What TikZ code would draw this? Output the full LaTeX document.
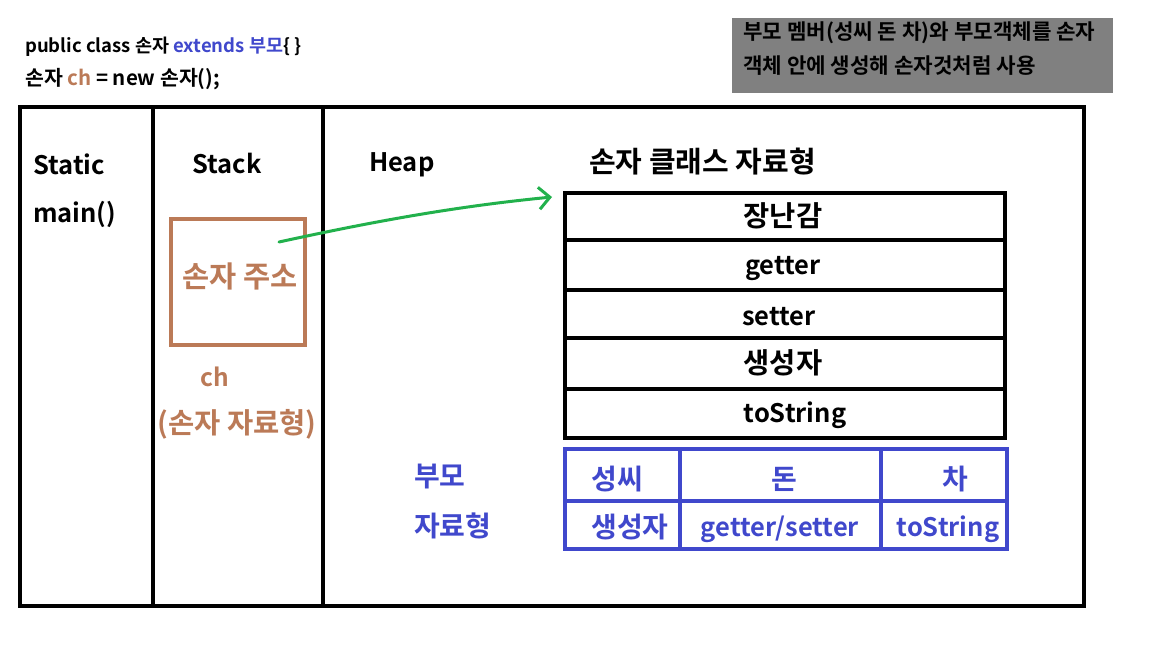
\documentclass[tikz,border=0pt]{standalone}
\usepackage{fontspec}
\setmainfont{Noto Sans CJK KR}[BoldFont={Noto Sans CJK KR Bold}]
\usetikzlibrary{arrows.meta}
\definecolor{brn}{HTML}{BB7A57}
\definecolor{blu}{HTML}{4048CC}
\definecolor{grn}{HTML}{22B14C}
\definecolor{gry}{HTML}{808080}
\newcommand{\fs}[1]{\fontsize{#1}{#1}\selectfont\bfseries}
\begin{document}
\begin{tikzpicture}[x=1pt,y=-1pt,
  frame/.style={line width=4pt,draw=black},
  head/.style={font=\fs{25.5},anchor=west,inner sep=0},
  cell/.style={font=\fs{25.5},inner sep=0},
  kcell/.style={font=\fs{28.5},inner sep=0},
  bcell/.style={font=\fs{25.5},inner sep=0,text=blu},
  bkcell/.style={font=\fs{28},inner sep=0,text=blu},
  btxt/.style={text=brn,inner sep=0}]
\useasboundingbox (0,0) rectangle (1152,648);
\fill[white] (0,0) rectangle (1152,648);
% code lines
\node[anchor=west,inner sep=0,font=\fs{18.5}] (code1) at (25,47)
  {public class 손자 \textcolor{blu}{extends 부모}\{ \}};
\node[anchor=west,inner sep=0,font=\fs{20.5}] (code2) at (25,79)
  {손자 \textcolor{brn}{ch} = new 손자();};
% gray note
\node[fill=gry,minimum width=381pt,minimum height=75pt,anchor=north west,inner sep=0] (note) at (732,18) {};
\node[anchor=west,inner sep=0,font=\fs{21.2}] (note1) at (743,33) {부모 멤버(성씨 돈 차)와 부모객체를 손자};
\node[anchor=west,inner sep=0,font=\fs{21.2}] (note2) at (743,66) {객체 안에 생성해 손자것처럼 사용};
% frame
\draw[frame] (20,107) rectangle (1084,606);
\draw[frame] (153,107) -- (153,606);
\draw[frame] (323,107) -- (323,606);
% headings
\node[head] (static) at (33,164) {Static};
\node[head] (main) at (33,214) {main()};
\node[head] (stack) at (192,164) {Stack};
\node[head] (heap) at (369,165) {Heap};
\node[head,font=\fs{29}] (cls) at (589,162) {손자 클래스 자료형};
% brown box
\node[draw=brn,line width=4pt,minimum width=134pt,minimum height=126pt,inner sep=0] (addr) at (238,282) {};
\node[btxt,font=\fs{29.5}] (addrtxt) at (240,276) {손자 주소};
\node[btxt,font=\fs{24.5}] (ch) at (215,377) {ch};
\node[btxt,font=\fs{28.5}] (chtype) at (237,424) {(손자 자료형)};
% black table
\draw[line width=4.5pt] (565,193) rectangle (1005,438);
\foreach \yy in {240,290,338,389} \draw[line width=4.5pt] (565,\yy) -- (1005,\yy);
\node[kcell] (r1) at (783,216) {장난감};
\node[cell] (r2) at (783,269) {getter};
\node[cell] (r3) at (779,317) {setter};
\node[kcell] (r4) at (783,363) {생성자};
\node[cell] (r5) at (795,415) {toString};
\coordinate (tbltop) at (552,197);
\coordinate (arrstart) at (279,242);
% green arrow
\draw[grn,line width=3pt,line cap=round,-{Straight Barb[length=11pt,width=22pt,line width=3pt]}]
  (arrstart) .. controls (380,220) and (460,206) .. (tbltop);
% blue table
\draw[blu,line width=4.5pt] (565,449) rectangle (1007,549);
\draw[blu,line width=4.5pt] (565,501) -- (1007,501);
\draw[blu,line width=4.5pt] (680,449) -- (680,549);
\draw[blu,line width=4.5pt] (881,449) -- (881,549);
\node[bkcell] (b1) at (617,479) {성씨};
\node[bkcell] (b2) at (784,479) {돈};
\node[bkcell] (b3) at (955,479) {차};
\node[bkcell] (b4) at (630,527) {생성자};
\node[bcell] (b5) at (780,529) {getter/setter};
\node[bcell] (b6) at (948,529) {toString};
% parent label
\node[bkcell,anchor=west] (pa1) at (414,477) {부모};
\node[bkcell,anchor=west] (pa2) at (414,526) {자료형};
\end{tikzpicture}
\end{document}
